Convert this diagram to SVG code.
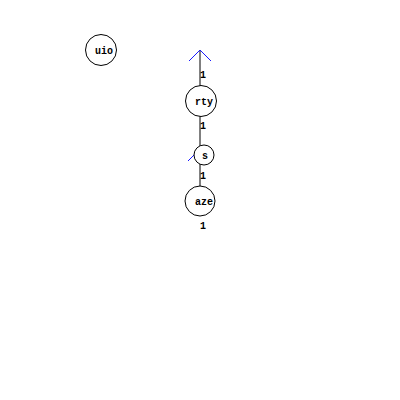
<svg xmlns="http://www.w3.org/2000/svg" width="400" height="400" viewBox="0 0 400 400">
<style>
.n{fill:#fff;stroke:#000;stroke-width:1}
.t{font-family:"Liberation Mono","DejaVu Sans Mono",monospace;font-weight:bold;font-size:10px;fill:#000;text-anchor:middle;dominant-baseline:central}
.e{stroke:#000;stroke-width:1;fill:none}
.a{stroke:#1a1aff;stroke-width:1;fill:none}
</style>
<rect width="400" height="400" fill="#fff"/>
<g id="connectors">
<line class="e" x1="200" y1="50" x2="200" y2="86"/>
<line class="e" x1="200" y1="116" x2="200" y2="146"/>
<line class="e" x1="200" y1="164" x2="200" y2="186"/>
<polyline class="a" points="189,61 200,50 211,61"/>
<line class="a" x1="188" y1="161" x2="195" y2="154"/>
<text class="t" x="203" y="75">1</text>
<text class="t" x="203" y="126">1</text>
<text class="t" x="203" y="176">1</text>
<text class="t" x="203" y="226">1</text>
</g>
<g id="uio">
<circle class="n" cx="101" cy="50" r="15.5"/>
<text class="t" x="104" y="51">uio</text>
</g>
<g id="rty">
<circle class="n" cx="201" cy="101" r="15.5"/>
<text class="t" x="204" y="102">rty</text>
</g>
<g id="s">
<circle class="n" cx="204" cy="155" r="10"/>
<text class="t" x="205" y="156">s</text>
</g>
<g id="aze">
<circle class="n" cx="200" cy="201" r="15"/>
<text class="t" x="204" y="202">aze</text>
</g>
</svg>
